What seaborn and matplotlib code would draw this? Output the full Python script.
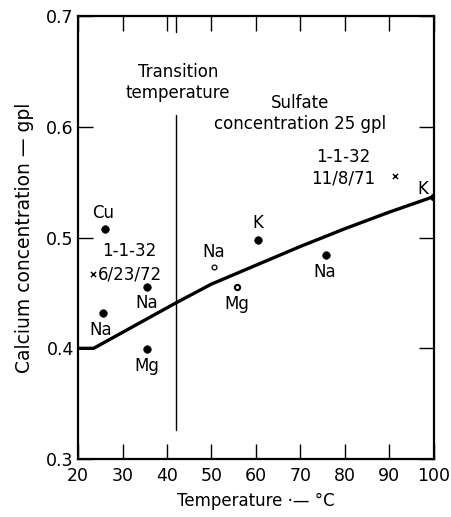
import numpy as np
import pandas as pd
import seaborn as sns
import matplotlib
matplotlib.use("Agg")
from matplotlib import pyplot as plt

# smoothed curve
curve_temp = [20, 23.5, 42, 50, 60, 70, 80, 90, 100]
curve_ca = [0.400, 0.400, 0.441, 0.458, 0.475, 0.492, 0.508, 0.523, 0.537]

# filled points
dot_temp = [26.1, 25.6, 35.5, 35.5, 60.4, 75.7, 100.0]
dot_ca = [0.508, 0.432, 0.455, 0.399, 0.498, 0.484, 0.537]

# small / open points
small_temp = [55.7]
small_ca = [0.455]
open_temp = [50.6]
open_ca = [0.473]

# x marks (1-1-32 runs)
cross_temp = [23.4, 91.2]
cross_ca = [0.467, 0.556]

transition_temp = 42

sns.set_style("ticks")
plt.rcParams['font.family'] = ['DejaVu Sans']
plt.rcParams['text.color'] = 'black'
plt.rcParams['axes.labelcolor'] = 'black'
plt.rcParams['xtick.color'] = 'black'
plt.rcParams['ytick.color'] = 'black'

fig = plt.figure(figsize=(4.51, 5.17), dpi=100)
ax = fig.add_axes([0.173, 0.112, 0.789, 0.857])

sns.lineplot(x=curve_temp, y=curve_ca, ax=ax, color="black", linewidth=2.4,
             estimator=None, sort=False)
sns.scatterplot(x=dot_temp, y=dot_ca, ax=ax, color="black", s=30, edgecolor="black", zorder=5)
sns.scatterplot(x=small_temp, y=small_ca, ax=ax, color="white", s=14, edgecolor="black",
                linewidth=1.5, zorder=5)
sns.scatterplot(x=open_temp, y=open_ca, ax=ax, color="white", s=12, edgecolor="black",
                linewidth=0.9, zorder=5)
sns.scatterplot(x=cross_temp, y=cross_ca, ax=ax, color="black", marker="x", s=14,
                linewidth=1.0, zorder=5)

# transition temperature line (broken around the label)
ax.plot([transition_temp, transition_temp], [0.7, 0.686], color="black", lw=1.0)
ax.plot([transition_temp, transition_temp], [0.611, 0.326], color="black", lw=1.0)

fs = 12
# point labels
ax.text(25.6, 0.514, "Cu", ha="center", va="bottom", fontsize=fs)
ax.text(25.0, 0.425, "Na", ha="center", va="top", fontsize=fs)
ax.text(35.5, 0.449, "Na", ha="center", va="top", fontsize=fs)
ax.text(35.5, 0.392, "Mg", ha="center", va="top", fontsize=fs)
ax.text(60.4, 0.505, "K", ha="center", va="bottom", fontsize=fs)
ax.text(75.5, 0.477, "Na", ha="center", va="top", fontsize=fs)
ax.text(98.8, 0.536, "K", ha="right", va="bottom", fontsize=fs)
ax.text(50.4, 0.479, "Na", ha="center", va="bottom", fontsize=fs)
ax.text(55.7, 0.448, "Mg", ha="center", va="top", fontsize=fs)

ax.text(31.5, 0.488, "1-1-32", ha="center", va="center", fontsize=fs)
ax.text(24.4, 0.467, "6/23/72", ha="left", va="center", fontsize=fs)
ax.text(79.6, 0.573, "1-1-32", ha="center", va="center", fontsize=fs)
ax.text(79.6, 0.553, "11/8/71", ha="center", va="center", fontsize=fs)

ax.text(42.5, 0.640, "Transition\ntemperature", ha="center", va="center",
        fontsize=fs, linespacing=1.15)
ax.text(70, 0.612, "Sulfate\nconcentration 25 gpl", ha="center", va="center",
        fontsize=fs, linespacing=1.25)

ax.set_xlim(20, 100)
ax.set_ylim(0.3, 0.7)
ax.set_xticks(np.arange(20, 101, 10))
ax.set_yticks([0.3, 0.4, 0.5, 0.6, 0.7])
ax.set_yticklabels(["0.3", "0.4", "0.5", "0.6", "0.7"])
ax.tick_params(which="major", direction="in", length=11, width=1.0, color="black",
               bottom=True, top=True, left=True, right=True,
               labelsize=12.5, pad=3, labelcolor="black")
ax.tick_params(axis="x", pad=6)
for s in ax.spines.values():
    s.set_linewidth(1.6)
    s.set_color("black")
    s.set_visible(True)

ax.set_xlabel("Temperature \u00b7\u2014 \u00b0C", fontsize=12, labelpad=5)
ax.set_ylabel("Calcium concentration \u2014 gpl", fontsize=13.5, labelpad=9)

fig.savefig("out.png", dpi=100)
